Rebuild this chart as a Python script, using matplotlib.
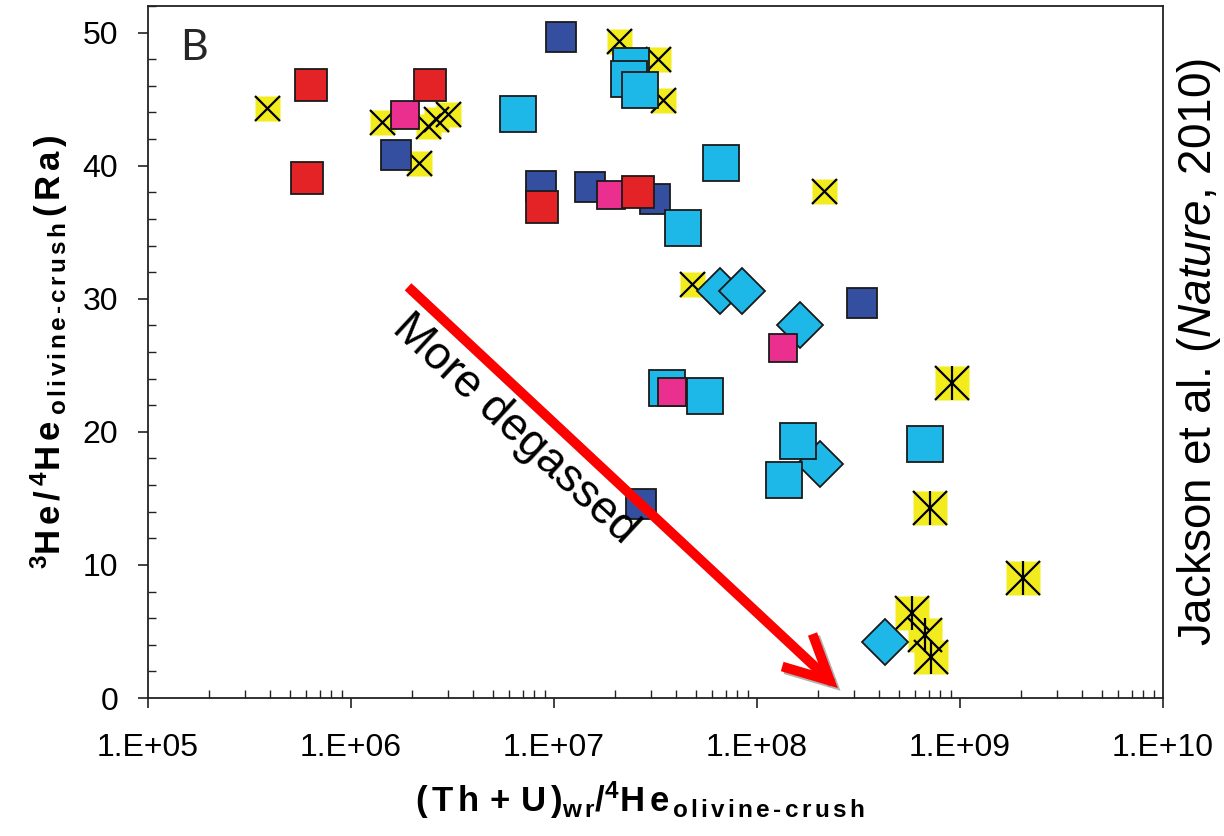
import numpy as np
import matplotlib
matplotlib.use('Agg')
import matplotlib.pyplot as plt
from matplotlib import font_manager, patheffects
from matplotlib.ticker import LogLocator, FuncFormatter, MultipleLocator

# data
red_x = [6.35e5, 6.1e5, 2.45e6, 8.7e6, 2.6e7]
red_y = [46.1, 39.1, 46.1, 36.9, 38.0]

navy_x = [1.67e6, 1.08e7, 8.63e6, 1.50e7, 3.15e7, 3.29e8, 2.69e7]
navy_y = [40.8, 49.7, 38.5, 38.4, 37.5, 29.7, 14.6]

pink_x = [1.85e6, 1.91e7, 3.81e7, 1.34e8]
pink_y = [43.8, 37.8, 23.0, 26.3]

cyan_sq_x = [6.65e6, 2.39e7, 2.34e7, 2.65e7, 6.65e7, 4.31e7, 3.6e7, 5.55e7, 1.59e8, 1.36e8, 6.73e8]
cyan_sq_y = [43.9, 47.5, 46.5, 45.7, 40.2, 35.3, 23.3, 22.7, 19.3, 16.4, 19.1]

cyan_dia_x = [6.58e7, 8.43e7, 1.63e8, 2.04e8, 4.28e8]
cyan_dia_y = [30.6, 30.6, 28.0, 17.6, 4.2]

yel_x = [3.86e5, 1.42e6, 2.39e6, 2.62e6, 3.0e6, 2.16e6, 2.09e7, 3.25e7, 3.44e7, 2.14e8, 4.79e7]
yel_y = [44.3, 43.3, 43.0, 43.5, 43.9, 40.2, 49.4, 48.0, 44.9, 38.1, 31.1]

ast_x = [9.14e8, 7.11e8, 2.04e9, 5.81e8, 6.73e8, 7.2e8]
ast_y = [23.7, 14.3, 9.0, 6.4, 4.7, 3.1]

arrow_from = (1.91e6, 30.9)
arrow_to = (2.5e8, 0.75)


def have(name):
    try:
        font_manager.findfont(name, fallback_to_default=False)
        return True
    except ValueError:
        return False


narrow = 'Liberation Sans Narrow' if have('Liberation Sans Narrow') else 'Liberation Sans'

plt.rcParams['font.family'] = ['Liberation Sans', 'DejaVu Sans']
plt.rcParams['mathtext.fontset'] = 'custom'
plt.rcParams['mathtext.rm'] = 'Liberation Sans'
plt.rcParams['mathtext.bf'] = 'Liberation Sans:bold'
plt.rcParams['mathtext.it'] = narrow + ':italic'

RED = '#E42326'
NAVY = '#344EA0'
CYAN = '#1DB8E8'
PINK = '#EB2F8E'
YEL = '#F2EC1E'
EDGE = '#1a1a1a'

fig = plt.figure(figsize=(12.24, 8.36), dpi=100)
ax = fig.add_axes([148 / 1224, 1 - 698 / 836, 1015 / 1224, 692 / 836])

# yellow squares with X
ax.plot(yel_x, yel_y, 's', ms=18, mfc=YEL, mec='none')
ax.plot(yel_x, yel_y, 'x', ms=18, mec='k', mew=1.6)
# yellow squares with asterisk
ax.plot(ast_x, ast_y, 's', ms=24, mfc=YEL, mec='none')
ax.plot(ast_x, ast_y, 'x', ms=24, mec='k', mew=1.6)
ax.plot(ast_x, ast_y, '|', ms=24, mec='k', mew=1.6)

ax.plot(navy_x, navy_y, 's', ms=21.5, mfc=NAVY, mec=EDGE, mew=1.3)
ax.plot(cyan_dia_x, cyan_dia_y, 'D', ms=23, mfc=CYAN, mec=EDGE, mew=1.3)
ax.plot(cyan_sq_x, cyan_sq_y, 's', ms=26.5, mfc=CYAN, mec=EDGE, mew=1.3)
ax.plot(pink_x, pink_y, 's', ms=20, mfc=PINK, mec=EDGE, mew=1.3)
ax.plot(red_x, red_y, 's', ms=23.5, mfc=RED, mec=EDGE, mew=1.3)

ann = ax.annotate('', xy=arrow_to, xytext=arrow_from,
                  arrowprops=dict(arrowstyle='->,head_length=3.2,head_width=1.6',
                                  mutation_scale=10, lw=7, color='#FF0000',
                                  shrinkA=0, shrinkB=0, capstyle='butt',
                                  joinstyle='miter'))
ann.arrow_patch.set_path_effects([
    patheffects.SimpleLineShadow(offset=(2, -2), shadow_color='0.4', alpha=0.5),
    patheffects.Normal()])

ax.text(6.43e6, 20.2, 'More degassed', fontsize=33, rotation=-42.8,
        rotation_mode='anchor', ha='center', va='center')

ax.text(0.045, 0.94, 'B', transform=ax.transAxes, fontsize=31,
        family=['Lato', 'DejaVu Sans'], color='#262626', ha='center', va='center')

ax.set_xscale('log')
ax.set_xlim(1e5, 1e10)
ax.set_ylim(0, 52)
ax.xaxis.set_major_locator(LogLocator(base=10, numticks=10))
ax.xaxis.set_minor_locator(LogLocator(base=10, subs=np.arange(2, 10), numticks=60))
ax.xaxis.set_major_formatter(FuncFormatter(lambda v, p: '1.E+%02d' % round(np.log10(v))))
ax.xaxis.set_minor_formatter(FuncFormatter(lambda v, p: ''))
ax.yaxis.set_major_locator(MultipleLocator(10))
ax.yaxis.set_minor_locator(MultipleLocator(2))

for s in ax.spines.values():
    s.set_color('#222222')
    s.set_linewidth(1.3)
ax.tick_params(which='major', direction='out', length=7.5, width=1.2, color='#222222')
ax.tick_params(which='minor', direction='in', length=6, width=1.0, color='#222222')
ax.tick_params(axis='y', which='major', labelsize=23, pad=14)
ax.tick_params(axis='x', which='major', labelsize=23, pad=18)
for lab in ax.get_xticklabels():
    lab.set_family([narrow, 'DejaVu Sans'])

ax.set_ylabel(r'$\mathbf{^{3}H\,e\,/\,^{4}H\,e_{\,\,o\,l\,i\,v\,i\,n\,e\,‐\,c\,r\,u\,s\,h}\,(\,R\,a\,)}$',
              fontsize=25)
ax.yaxis.set_label_coords(-0.077, 0.5)
ax.set_xlabel(r'$\mathbf{(\,T\,h\,+\,U\,)_{w\,r}/^{4}H\,e_{\,o\,l\,i\,v\,i\,n\,e\,‐\,c\,r\,u\,s\,h}}$',
              fontsize=25)
ax.xaxis.set_label_coords(0.485, -0.118)

fig.text(1199 / 1224, 1 - 352 / 836, r'Jackson et al. ($\mathit{Nature}$, 2010)',
         fontsize=33, family=[narrow, 'DejaVu Sans'], rotation=90, ha='center', va='center')

fig.savefig('out.png', dpi=100)
